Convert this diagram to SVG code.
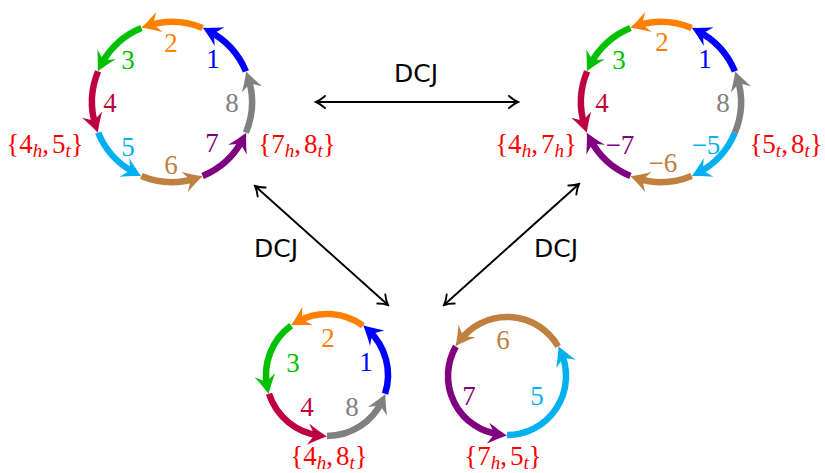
<svg xmlns="http://www.w3.org/2000/svg" width="825" height="473" viewBox="0 0 825 473">
<style>
.seg{fill:none;stroke-width:6.5;stroke-linecap:butt}
.num{font-family:"Liberation Serif","Times New Roman",serif;font-size:27px;text-anchor:middle}
.adj{font-family:"Liberation Serif","Times New Roman",serif;font-size:27px;fill:#ff0000;text-anchor:middle}
.sub{font-style:italic;font-size:19px}
.dcj{font-family:"DejaVu Sans",Verdana,sans-serif;font-size:25px;fill:#000;text-anchor:middle}
.conn{fill:none;stroke:#000;stroke-width:1.9}
.c1{stroke:#0000ff}.f1{fill:#0000ff}
.c2{stroke:#ff8000}.f2{fill:#ff8000}
.c3{stroke:#00c000}.f3{fill:#00c000}
.c4{stroke:#bf0040}.f4{fill:#bf0040}
.c5{stroke:#00b0f0}.f5{fill:#00b0f0}
.c6{stroke:#bf8040}.f6{fill:#bf8040}
.c7{stroke:#800080}.f7{fill:#800080}
.c8{stroke:#808080}.f8{fill:#808080}
</style>
<defs>
<path id="head" d="M0,0 C-6,-2.8 -13,-6.8 -19,-10.5 L-12.5,0 L-19,10.5 C-13,6.8 -6,2.8 0,0 Z"/>
<marker id="m1" viewBox="-20 -12 22 24" refX="-7" refY="0" markerWidth="22" markerHeight="24" markerUnits="userSpaceOnUse" orient="auto"><use href="#head" class="f1"/></marker>
<marker id="m2" viewBox="-20 -12 22 24" refX="-7" refY="0" markerWidth="22" markerHeight="24" markerUnits="userSpaceOnUse" orient="auto"><use href="#head" class="f2"/></marker>
<marker id="m3" viewBox="-20 -12 22 24" refX="-7" refY="0" markerWidth="22" markerHeight="24" markerUnits="userSpaceOnUse" orient="auto"><use href="#head" class="f3"/></marker>
<marker id="m4" viewBox="-20 -12 22 24" refX="-7" refY="0" markerWidth="22" markerHeight="24" markerUnits="userSpaceOnUse" orient="auto"><use href="#head" class="f4"/></marker>
<marker id="m5" viewBox="-20 -12 22 24" refX="-7" refY="0" markerWidth="22" markerHeight="24" markerUnits="userSpaceOnUse" orient="auto"><use href="#head" class="f5"/></marker>
<marker id="m6" viewBox="-20 -12 22 24" refX="-7" refY="0" markerWidth="22" markerHeight="24" markerUnits="userSpaceOnUse" orient="auto"><use href="#head" class="f6"/></marker>
<marker id="m7" viewBox="-20 -12 22 24" refX="-7" refY="0" markerWidth="22" markerHeight="24" markerUnits="userSpaceOnUse" orient="auto"><use href="#head" class="f7"/></marker>
<marker id="m8" viewBox="-20 -12 22 24" refX="-7" refY="0" markerWidth="22" markerHeight="24" markerUnits="userSpaceOnUse" orient="auto"><use href="#head" class="f8"/></marker>
<marker id="ar" viewBox="-11 -8 13 16" refX="0" refY="0" markerWidth="13" markerHeight="16" markerUnits="userSpaceOnUse" orient="auto-start-reverse"><path d="M-9,-6 C-5.5,-2.8 -2.2,-0.9 0,0 C-2.2,0.9 -5.5,2.8 -9,6" fill="none" stroke="#000" stroke-width="1.9" stroke-linecap="round"/></marker>
</defs>

<g id="genome-top-left">
<path class="seg c1" marker-end="url(#m1)" d="M245.91,71.38 A80,80 0 0 0 208.94,31.04"/>
<path class="seg c2" marker-end="url(#m2)" d="M202.62,28.09 A80,80 0 0 0 147.94,25.70"/>
<path class="seg c3" marker-end="url(#m3)" d="M141.38,28.09 A80,80 0 0 0 101.04,65.06"/>
<path class="seg c4" marker-end="url(#m4)" d="M98.09,71.38 A80,80 0 0 0 95.70,126.06"/>
<path class="seg c5" marker-end="url(#m5)" d="M98.09,132.62 A80,80 0 0 0 135.06,172.96"/>
<path class="seg c6" marker-end="url(#m6)" d="M141.38,175.91 A80,80 0 0 0 196.06,178.30"/>
<path class="seg c7" marker-end="url(#m7)" d="M202.62,175.91 A80,80 0 0 0 242.96,138.94"/>
<path class="seg c8" marker-end="url(#m8)" d="M245.91,132.62 A80,80 0 0 0 248.30,77.94"/>
<text class="num f1" x="213" y="68">1</text>
<text class="num f2" x="171" y="52">2</text>
<text class="num f3" x="128" y="69">3</text>
<text class="num f4" x="110" y="112">4</text>
<text class="num f5" x="128" y="156">5</text>
<text class="num f6" x="171" y="174">6</text>
<text class="num f7" x="212" y="152">7</text>
<text class="num f8" x="232" y="112">8</text>
<text class="adj" x="45" y="153">{4<tspan class="sub" dy="4">h</tspan><tspan dy="-4">,</tspan><tspan dx="3">5</tspan><tspan class="sub" dy="4">t</tspan><tspan dy="-4">}</tspan></text>
<text class="adj" x="297" y="153">{7<tspan class="sub" dy="4">h</tspan><tspan dy="-4">,</tspan><tspan dx="3">8</tspan><tspan class="sub" dy="4">t</tspan><tspan dy="-4">}</tspan></text>
</g>

<g id="genome-top-right">
<path class="seg c1" marker-end="url(#m1)" d="M734.91,71.38 A80,80 0 0 0 697.94,31.04"/>
<path class="seg c2" marker-end="url(#m2)" d="M691.62,28.09 A80,80 0 0 0 636.94,25.70"/>
<path class="seg c3" marker-end="url(#m3)" d="M630.38,28.09 A80,80 0 0 0 590.04,65.06"/>
<path class="seg c4" marker-end="url(#m4)" d="M587.09,71.38 A80,80 0 0 0 584.70,126.06"/>
<path class="seg c7" marker-end="url(#m7)" d="M630.38,175.91 A80,80 0 0 1 590.04,138.94"/>
<path class="seg c6" marker-end="url(#m6)" d="M691.62,175.91 A80,80 0 0 1 636.94,178.30"/>
<path class="seg c5" marker-end="url(#m5)" d="M734.91,132.62 A80,80 0 0 1 697.94,172.96"/>
<path class="seg c8" marker-end="url(#m8)" d="M734.91,132.62 A80,80 0 0 0 737.30,77.94"/>
<text class="num f1" x="705" y="68">1</text>
<text class="num f2" x="662" y="51">2</text>
<text class="num f3" x="619" y="69">3</text>
<text class="num f4" x="602" y="112">4</text>
<text class="num f7" x="620" y="154">−7</text>
<text class="num f6" x="663" y="172">−6</text>
<text class="num f5" x="706" y="154">−5</text>
<text class="num f8" x="723" y="112">8</text>
<text class="adj" x="536" y="153">{4<tspan class="sub" dy="4">h</tspan><tspan dy="-4">,</tspan><tspan dx="3">7</tspan><tspan class="sub" dy="4">h</tspan><tspan dy="-4">}</tspan></text>
<text class="adj" x="786" y="153">{5<tspan class="sub" dy="4">t</tspan><tspan dy="-4">,</tspan><tspan dx="3">8</tspan><tspan class="sub" dy="4">t</tspan><tspan dy="-4">}</tspan></text>
</g>

<g id="genome-bottom-left">
<path class="seg c1" marker-end="url(#m1)" d="M385.02,393.85 A61,61 0 0 0 368.29,330.10"/>
<path class="seg c2" marker-end="url(#m2)" d="M362.86,325.65 A61,61 0 0 0 297.06,321.86"/>
<path class="seg c3" marker-end="url(#m3)" d="M291.14,325.65 A61,61 0 0 0 267.20,387.06"/>
<path class="seg c4" marker-end="url(#m4)" d="M268.98,393.85 A61,61 0 0 0 319.99,435.60"/>
<path class="seg c8" marker-end="url(#m8)" d="M327,436 A61,61 0 0 0 382.46,400.39"/>
<text class="num f1" x="366" y="371">1</text>
<text class="num f2" x="328" y="347">2</text>
<text class="num f3" x="293" y="372">3</text>
<text class="num f4" x="307" y="416">4</text>
<text class="num f8" x="352" y="416">8</text>
<text class="adj" x="329" y="465">{4<tspan class="sub" dy="4">h</tspan><tspan dy="-4">,</tspan><tspan dx="3">8</tspan><tspan class="sub" dy="4">t</tspan><tspan dy="-4">}</tspan></text>
</g>

<g id="genome-bottom-right">
<path class="seg c6" marker-end="url(#m6)" d="M558.10,346.5 A59,59 0 0 0 459.75,340.66"/>
<path class="seg c7" marker-end="url(#m7)" d="M455.90,346.5 A59,59 0 0 0 500.01,434.59"/>
<path class="seg c5" marker-end="url(#m5)" d="M507,435 A59,59 0 0 0 561.23,352.76"/>
<text class="num f6" x="503" y="349">6</text>
<text class="num f7" x="469" y="405">7</text>
<text class="num f5" x="537" y="405">5</text>
<text class="adj" x="503" y="465">{7<tspan class="sub" dy="4">h</tspan><tspan dy="-4">,</tspan><tspan dx="3">5</tspan><tspan class="sub" dy="4">t</tspan><tspan dy="-4">}</tspan></text>
</g>

<g id="connectors">
<line class="conn" x1="316" y1="102" x2="518" y2="102" marker-start="url(#ar)" marker-end="url(#ar)"/>
<line class="conn" x1="255" y1="186" x2="388" y2="305" marker-start="url(#ar)" marker-end="url(#ar)"/>
<line class="conn" x1="579" y1="184" x2="444" y2="305" marker-start="url(#ar)" marker-end="url(#ar)"/>
<text class="dcj" x="416" y="82">DCJ</text>
<text class="dcj" x="276" y="257">DCJ</text>
<text class="dcj" x="556" y="257">DCJ</text>
</g>
</svg>
